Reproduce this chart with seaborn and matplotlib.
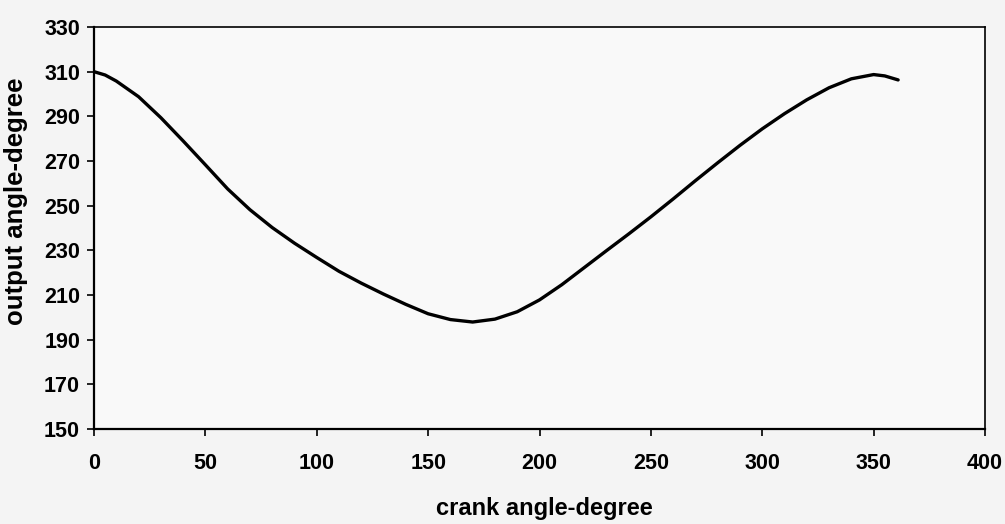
import numpy as np
import pandas as pd
import matplotlib
matplotlib.use("Agg")
import matplotlib.pyplot as plt
import seaborn as sns

# values
crank_angle = [0, 5, 10, 20, 30, 40, 50, 60, 70, 80, 90, 100, 110, 120, 130,
               140, 150, 160, 170, 180, 190, 200, 210, 220, 230, 240, 250, 260,
               270, 280, 290, 300, 310, 320, 330, 340, 350, 355, 361]
output_angle = [310, 308.5, 305.8, 298.8, 289.4, 279, 268.3, 257.5, 248.2,
                240.2, 233.2, 226.8, 220.6, 215.3, 210.4, 205.8, 201.6, 199,
                197.9, 199.2, 202.5, 207.8, 214.6, 222.2, 229.8, 237.3, 245,
                253, 261.2, 269.2, 277, 284.4, 291.2, 297.4, 302.8, 306.8,
                308.7, 308.1, 306.3]
x_ticks = [0, 50, 100, 150, 200, 250, 300, 350, 400]
y_ticks = [150, 170, 190, 210, 230, 250, 270, 290, 310, 330]

df = pd.DataFrame({"crank": crank_angle, "output": output_angle})

sns.set_theme(style="white")
plt.rcParams["font.family"] = ["Liberation Sans", "DejaVu Sans"]

fig = plt.figure(figsize=(10.05, 5.24), dpi=100, facecolor="#f4f4f4")
# plot area: x 94..985 px, y 27..429 px
ax = fig.add_axes([94 / 1005, 1 - 429 / 524, 891 / 1005, 402 / 524])
ax.set_facecolor("#f9f9f9")

sns.lineplot(data=df, x="crank", y="output", ax=ax, color="black",
             linewidth=2.4, sort=True)

ax.set_xlim(0, 400)
ax.set_ylim(150, 330)
ax.set_xticks(x_ticks)
ax.set_yticks(y_ticks)
ax.tick_params(axis="both", direction="out", length=5, width=1.2,
               color="black", labelcolor="black", labelsize=15.5,
               bottom=True, left=True)
ax.tick_params(axis="x", pad=12)
ax.tick_params(axis="y", pad=5)
for lbl in ax.get_xticklabels() + ax.get_yticklabels():
    lbl.set_fontweight("bold")

ax.set_xlabel("crank angle-degree", fontsize=17, fontweight="bold",
              color="black")
ax.set_ylabel("output angle-degree", fontsize=18.5, fontweight="bold",
              color="black")
ax.xaxis.set_label_coords(0.506, -0.169)
ax.yaxis.set_label_coords(-0.074, 0.567)

for side in ["left", "bottom"]:
    ax.spines[side].set_color("black")
    ax.spines[side].set_linewidth(1.6)
for side in ["top", "right"]:
    ax.spines[side].set_color("black")
    ax.spines[side].set_linewidth(1.2)
ax.spines["right"].set_linestyle((0, (5, 1)))

fig.savefig("out.png", dpi=100, facecolor=fig.get_facecolor())
